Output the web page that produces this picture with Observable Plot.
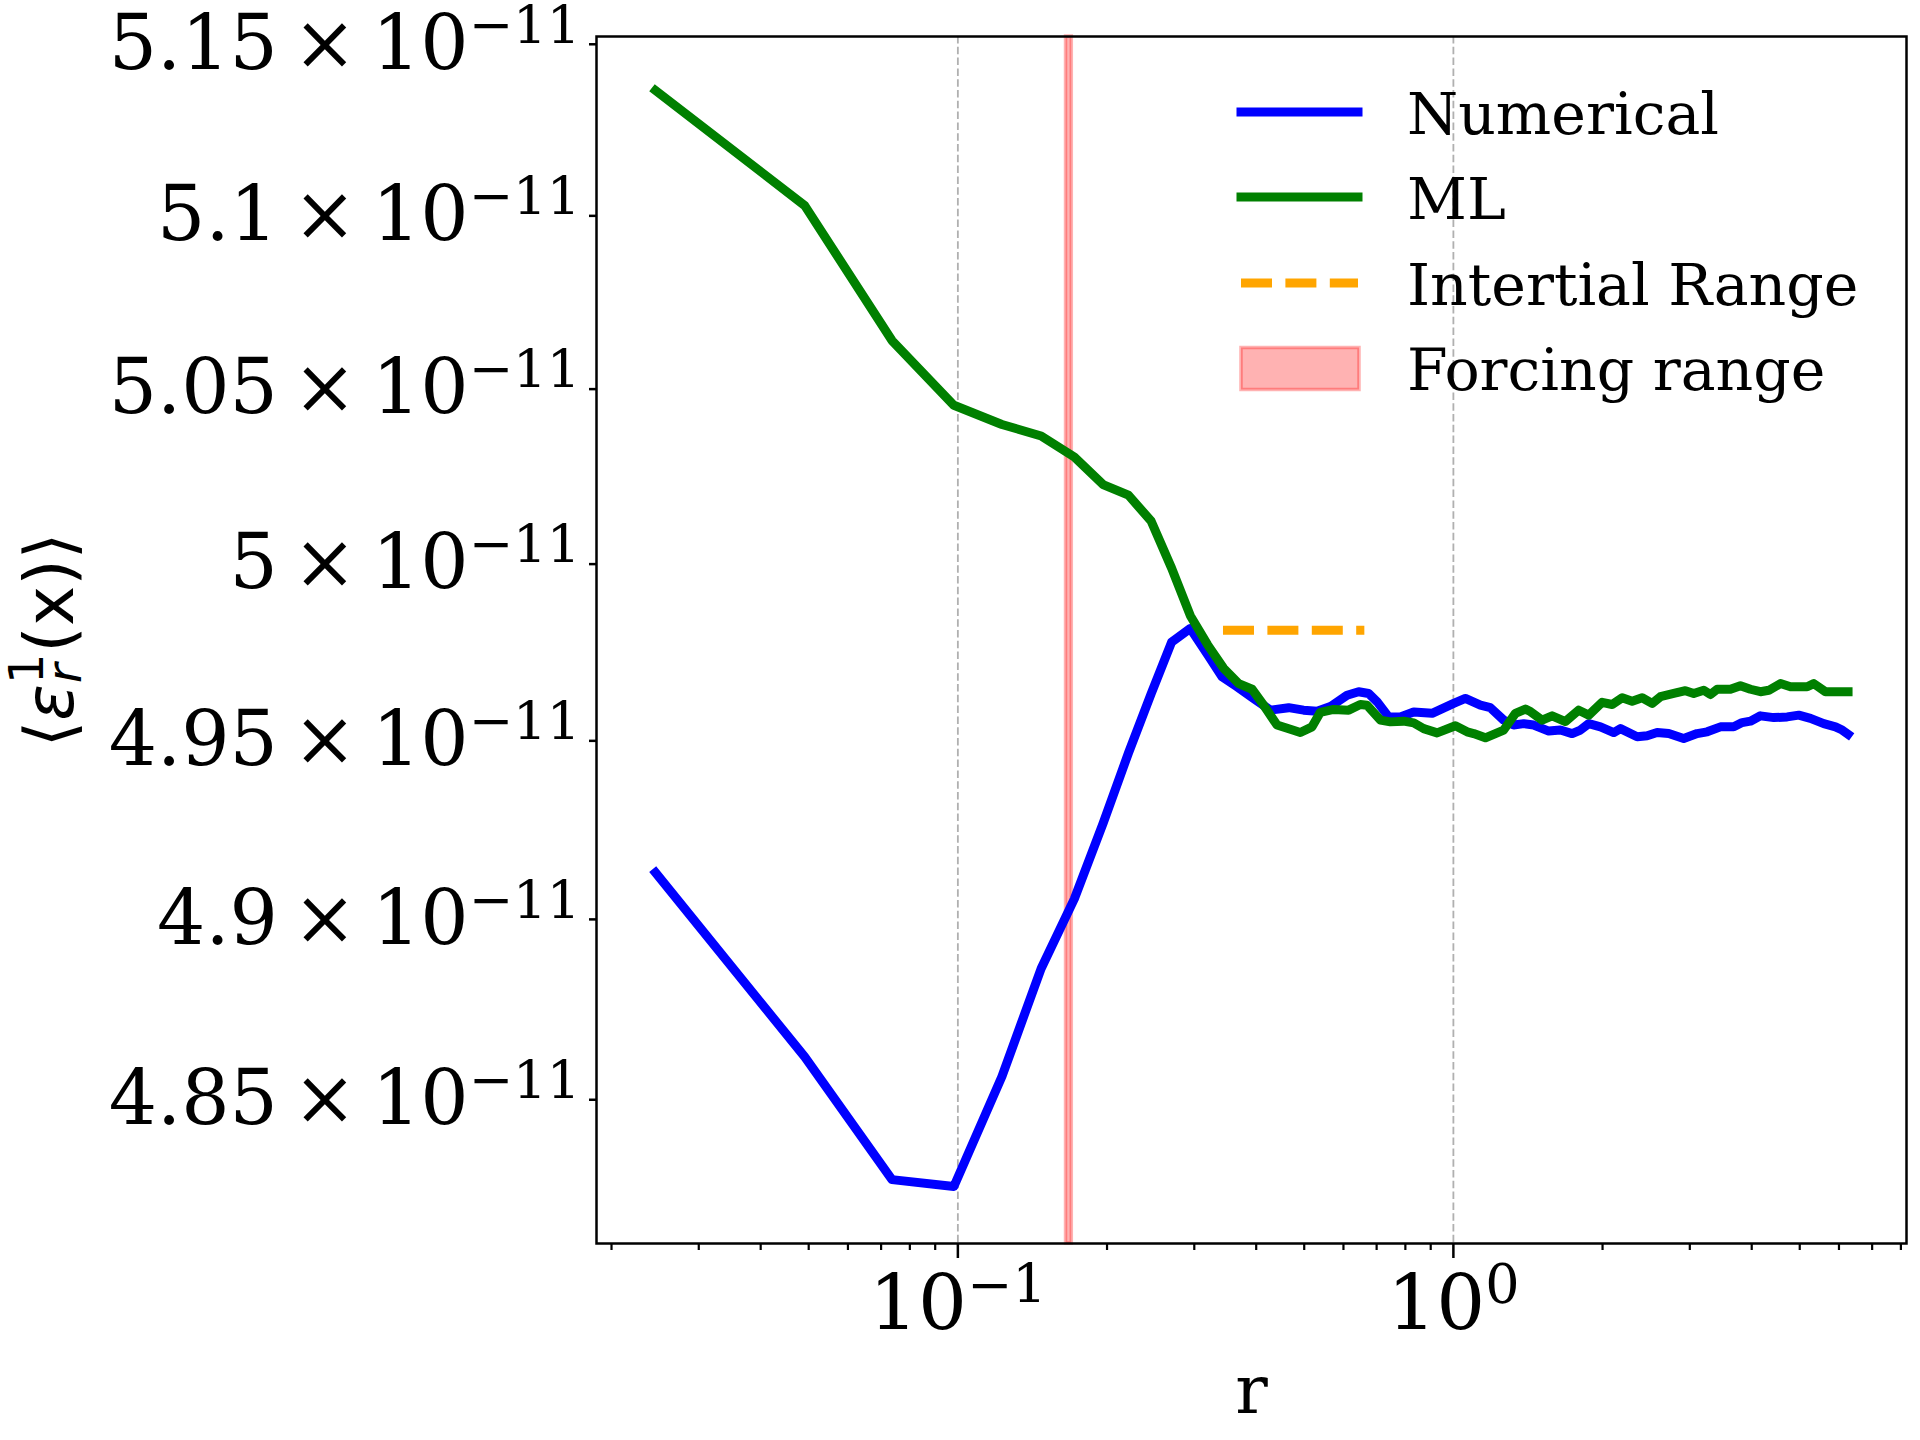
<!DOCTYPE html>
<html>
<head>
<meta charset="utf-8">
<script src="https://cdn.jsdelivr.net/npm/d3@7"></script>
<script src="https://cdn.jsdelivr.net/npm/@observablehq/plot@0.6"></script>
<style>
  html, body { margin: 0; padding: 0; background: #ffffff; }
  #chart { width: 1920px; height: 1440px; }
</style>
</head>
<body>
<div id="chart"></div>
<script>
// ---- data (values in units of 1e-11) ----
const rNumerical = [0.02454, 0.04909, 0.07363, 0.09817, 0.12272, 0.14726, 0.17181, 0.19635, 0.22089, 0.24544, 0.26998, 0.29452, 0.31907,
  0.3413, 0.3660, 0.3953, 0.4272, 0.4652, 0.4986, 0.5307, 0.5646, 0.6101, 0.6438, 0.6745, 0.7014, 0.7402, 0.7815, 0.8316, 0.9058,
  1.0014, 1.0573, 1.1338, 1.1876, 1.2634, 1.3235, 1.3865, 1.4525, 1.5574, 1.6443, 1.7363, 1.8046, 1.8758, 1.9808, 2.1070, 2.1737,
  2.3487, 2.4604, 2.5773, 2.7200, 2.9160, 3.1040, 3.2517, 3.4589, 3.6793, 3.8257, 3.9762, 4.1654, 4.4321, 4.7162, 4.9772, 5.2554,
  5.5908, 5.9036, 6.0903, 6.2586];
const numerical = [4.9122, 4.8610, 4.8272, 4.8253, 4.8556, 4.8855, 4.9049, 4.9260, 4.9457, 4.9624, 4.9770, 4.9809, 4.9735,
  4.9672, 4.9644, 4.9611, 4.9578, 4.9585, 4.9578, 4.9575, 4.9588, 4.9620, 4.9630, 4.9625, 4.9602, 4.9559, 4.9559, 4.9573, 4.9569,
  4.9597, 4.9611, 4.9592, 4.9585, 4.9550, 4.9536, 4.9540, 4.9536, 4.9519, 4.9522, 4.9512, 4.9522, 4.9540, 4.9531, 4.9515, 4.9526,
  4.9503, 4.9506, 4.9515, 4.9512, 4.9498, 4.9512, 4.9517, 4.9531, 4.9531, 4.9543, 4.9547, 4.9562, 4.9557, 4.9559, 4.9564, 4.9555,
  4.9540, 4.9531, 4.9522, 4.9510];

const rML = [0.02454, 0.04909, 0.07363, 0.09817, 0.12272, 0.14726, 0.17181, 0.19635, 0.22089, 0.24544, 0.26998, 0.29452, 0.31907,
  0.3439, 0.3688, 0.3924, 0.4141, 0.4406, 0.4688, 0.4910, 0.5185, 0.5389, 0.5733, 0.6146, 0.6489, 0.6695, 0.7123, 0.7461, 0.7936,
  0.8316, 0.8711, 0.9271, 1.0093, 1.0657, 1.0989, 1.1603, 1.2634, 1.3340, 1.3975, 1.4303, 1.5103, 1.5823, 1.6830, 1.7902, 1.8758,
  1.9965, 2.0914, 2.1910, 2.2948, 2.4039, 2.5180, 2.6172, 2.7849, 2.9391, 3.0553, 3.2007, 3.3020, 3.4067, 3.6233, 3.7956, 3.9762,
  4.1654, 4.3303, 4.5717, 4.7891, 5.1754, 5.3368, 5.6351, 6.0424, 6.2586];
const ml = [5.1356, 5.1021, 5.0631, 5.0445, 5.0390, 5.0357, 5.0297, 5.0218, 5.0188, 5.0114, 4.9980, 4.9845, 4.9763,
  4.9696, 4.9653, 4.9637, 4.9592, 4.9536, 4.9524, 4.9515, 4.9531, 4.9572, 4.9580, 4.9578, 4.9594, 4.9592, 4.9550, 4.9545, 4.9547,
  4.9542, 4.9526, 4.9514, 4.9534, 4.9517, 4.9512, 4.9500, 4.9522, 4.9569, 4.9581, 4.9574, 4.9550, 4.9562, 4.9546, 4.9578, 4.9564,
  4.9600, 4.9594, 4.9613, 4.9603, 4.9613, 4.9597, 4.9616, 4.9625, 4.9633, 4.9625, 4.9634, 4.9622, 4.9637, 4.9637, 4.9647, 4.9637,
  4.9630, 4.9634, 4.9653, 4.9644, 4.9644, 4.9653, 4.9630, 4.9630, 4.9630];

const inertialRange = [0.3436, 0.6627];
const inertialLevel = 4.9804;
const forcingRange = [0.1653, 0.1698];

const yTicks = [4.85, 4.9, 4.95, 5.0, 5.05, 5.1, 5.15];
const yTickLabels = ["4.85", "4.9", "4.95", "5", "5.05", "5.1", "5.15"];
const yExponent = "\u221211";
const xMajorTicks = [0.1, 1];
const xMajorLabels = ["10^\u22121", "10^0"];
const xMinorTicks = [0.02, 0.03, 0.04, 0.05, 0.06, 0.07, 0.08, 0.09, 0.2, 0.3, 0.4, 0.5, 0.6, 0.7, 0.8, 0.9, 2, 3, 4, 5, 6, 7, 8];

const seriesNames = ["Numerical", "ML", "Intertial Range", "Forcing range"];
const seriesColors = ["#0000ff", "#008000", "#ffa500", "#ff0000"];
const xLabel = "r";

// ---- tables ----
const numTable = rNumerical.map((r, i) => ({r, v: numerical[i]}));
const mlTable = rML.map((r, i) => ({r, v: ml[i]}));

const LW = 9;
const serif = "DejaVu Serif";
const thin = "\u2009";

const svg = Plot.plot({
  width: 1920,
  height: 1440,
  marginTop: 36,
  marginRight: 14,
  marginBottom: 197,
  marginLeft: 596,
  style: {fontFamily: serif, fontSize: "76px", background: "#ffffff", color: "#000000", overflow: "visible"},
  x: {type: "log", domain: [0.018652, 8.2116]},
  y: {type: "log", domain: [4.8097, 5.1514]},
  marks: [
    Plot.gridX(xMajorTicks, {stroke: "#b0b0b0", strokeOpacity: 1, strokeWidth: 1.8, strokeDasharray: "7.5,3.3"}),
    Plot.rect([forcingRange], {x1: d => d[0], x2: d => d[1], fill: seriesColors[3], fillOpacity: 0.3,
      stroke: seriesColors[3], strokeOpacity: 0.3, strokeWidth: 3.5}),
    Plot.line(numTable, {x: "r", y: "v", stroke: seriesColors[0], strokeWidth: LW, strokeLinejoin: "round", strokeLinecap: "square"}),
    Plot.line(mlTable, {x: "r", y: "v", stroke: seriesColors[1], strokeWidth: LW, strokeLinejoin: "round", strokeLinecap: "square"}),
    Plot.ruleY([inertialLevel], {x1: inertialRange[0], x2: inertialRange[1], stroke: seriesColors[2], strokeWidth: LW,
      strokeDasharray: "31,13.4", strokeLinecap: "butt"}),
    Plot.frame({stroke: "#000000", strokeWidth: 2.5}),
    Plot.axisX(xMinorTicks, {tickSize: 7, tickFormat: () => "", strokeWidth: 2.2, label: null}),
    Plot.axisX(xMajorTicks, {tickSize: 15, tickPadding: 16, fontSize: 77, fontFamily: serif, fontVariant: "normal",
      tickFormat: d => xMajorLabels[xMajorTicks.indexOf(d)], strokeWidth: 2.5, label: null}),
    Plot.axisY(yTicks, {tickSize: 7, tickPadding: 9, fontSize: 76, fontFamily: serif, fontVariant: "normal", dy: 3,
      tickFormat: d => yTickLabels[yTicks.indexOf(d)] + thin + "\u00d7" + thin + "10^" + yExponent, strokeWidth: 2.5, label: null})
  ]
});

document.getElementById("chart").appendChild(svg);

// ---- superscripts in tick labels ----
const root = d3.select(svg);
function supify(selection, supSize, supDy) {
  selection.each(function() {
    const t = d3.select(this);
    t.attr("font-variant", "normal").style("font-variant", "normal");
    const s = t.text();
    if (!s.includes("^")) return;
    const [base, exp] = s.split("^");
    t.text(null);
    t.append("tspan").text(base);
    t.append("tspan").attr("font-size", supSize).attr("dy", supDy).text(exp);
  });
}
root.selectAll('g[aria-label="x-axis tick label"], g[aria-label="y-axis tick label"]')
  .attr("font-variant", "normal").style("font-variant", "normal");
supify(root.selectAll('g[aria-label="x-axis tick label"] text'), 54, -26);
supify(root.selectAll('g[aria-label="y-axis tick label"] text'), 53, -26);

// ---- axis labels ----
root.append("text")
  .attr("x", 1251.5).attr("y", 1413)
  .attr("text-anchor", "middle")
  .attr("font-family", serif).attr("font-size", 68)
  .attr("fill", "#000")
  .text(xLabel);

const yl = root.append("text")
  .attr("transform", "translate(73,640) rotate(-90)")
  .attr("text-anchor", "middle")
  .attr("font-family", "DejaVu Sans").attr("font-size", 68)
  .attr("fill", "#000");
yl.append("tspan").text("\u27e8");
yl.append("tspan").attr("font-style", "italic").text("\u03b5");
yl.append("tspan").attr("font-size", 48).attr("dy", -30).text("1");
yl.append("tspan").attr("font-size", 48).attr("font-style", "italic").attr("dx", -30).attr("dy", 38).text("r");
yl.append("tspan").attr("dx", 11).attr("dy", -8).text("(x)\u27e9");

// ---- legend ----
const legendCenters = [112, 197, 283, 368.5];
const lg = root.append("g").attr("aria-label", "legend").attr("text-anchor", "start");
seriesNames.forEach((name, i) => {
  const cy = legendCenters[i];
  if (i < 2) {
    lg.append("line").attr("x1", 1241).attr("x2", 1358).attr("y1", cy).attr("y2", cy)
      .attr("stroke", seriesColors[i]).attr("stroke-width", LW).attr("stroke-linecap", "square");
  } else if (i === 2) {
    lg.append("line").attr("x1", 1241).attr("x2", 1358).attr("y1", cy).attr("y2", cy)
      .attr("stroke", seriesColors[i]).attr("stroke-width", LW).attr("stroke-dasharray", "31,13.4");
  } else {
    lg.append("rect").attr("x", 1241).attr("y", cy - 21).attr("width", 118).attr("height", 42)
      .attr("fill", seriesColors[i]).attr("fill-opacity", 0.3)
      .attr("stroke", seriesColors[i]).attr("stroke-opacity", 0.3).attr("stroke-width", 3.5);
  }
  lg.append("text").attr("x", 1407).attr("y", cy + 21.5)
    .attr("text-anchor", "start")
    .attr("font-family", serif).attr("font-size", 58.5).attr("fill", "#000")
    .text(name);
});
</script>
</body>
</html>
